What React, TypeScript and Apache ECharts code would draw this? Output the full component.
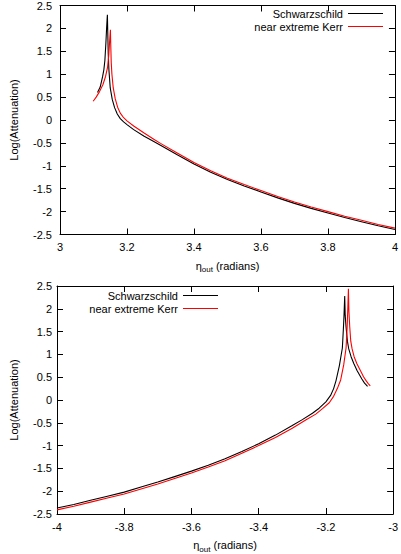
import React, { useEffect, useRef } from "react";
import * as echarts from "echarts";

const FONT = "'Liberation Sans', Arial, Helvetica, sans-serif";

const seriesNames = ["Schwarzschild", "near extreme Kerr"];
const xTitle = "{e|η}{s|out}{e| (radians)}";
const yTitle = "Log(Attenuation)";

// top panel (positive eta_out)
const topSchwarzschild: [number, number][] = [
  [3.112, 0.6], [3.12, 0.72], [3.127, 0.94], [3.131, 1.1], [3.134, 1.3], [3.137, 1.68], [3.139, 1.98], [3.1405, 2.18], [3.1415, 2.3],
  [3.1425, 1.95], [3.144, 1.45], [3.146, 1.1], [3.15, 0.7], [3.156, 0.45], [3.163, 0.27], [3.171, 0.13], [3.18, 0.03],
  [3.19, -0.04], [3.2, -0.1], [3.22, -0.21], [3.25, -0.35], [3.28, -0.47], [3.3, -0.55], [3.35, -0.76], [3.4, -0.96],
  [3.45, -1.14], [3.5, -1.3], [3.55, -1.44], [3.6, -1.57], [3.65, -1.7], [3.7, -1.82], [3.75, -1.93], [3.8, -2.03],
  [3.85, -2.13], [3.9, -2.22], [3.95, -2.31], [4.0, -2.39],
];
const topKerr: [number, number][] = [
  [3.099, 0.41], [3.108, 0.5], [3.118, 0.62], [3.128, 0.77], [3.136, 0.95], [3.142, 1.15], [3.146, 1.45], [3.148, 1.7], [3.1505, 1.97],
  [3.1515, 1.65], [3.153, 1.25], [3.155, 1.0], [3.159, 0.7], [3.165, 0.46], [3.172, 0.28], [3.18, 0.15], [3.19, 0.05],
  [3.2, -0.02], [3.22, -0.13], [3.25, -0.28], [3.28, -0.42], [3.3, -0.51], [3.35, -0.72], [3.4, -0.93], [3.45, -1.11],
  [3.5, -1.27], [3.55, -1.41], [3.6, -1.54], [3.65, -1.67], [3.7, -1.79], [3.75, -1.9], [3.8, -2.0], [3.85, -2.1],
  [3.9, -2.19], [3.95, -2.28], [4.0, -2.36],
];

// bottom panel (negative eta_out)
const bottomSchwarzschild: [number, number][] = [
  [-4.0, -2.37], [-3.95, -2.29], [-3.9, -2.2], [-3.85, -2.11], [-3.8, -2.02], [-3.75, -1.91], [-3.7, -1.8], [-3.65, -1.68],
  [-3.6, -1.56], [-3.55, -1.43], [-3.5, -1.29], [-3.45, -1.13], [-3.4, -0.96], [-3.35, -0.77], [-3.3, -0.56], [-3.27, -0.43],
  [-3.24, -0.29], [-3.22, -0.18], [-3.2, -0.04], [-3.186, 0.1], [-3.177, 0.25], [-3.17, 0.42], [-3.16, 0.75], [-3.151, 1.14],
  [-3.148, 1.55], [-3.146, 1.87], [-3.144, 2.28], [-3.1425, 1.85], [-3.14, 1.6], [-3.136, 1.29], [-3.132, 1.12], [-3.125, 0.95],
  [-3.117, 0.8], [-3.107, 0.64], [-3.093, 0.46], [-3.085, 0.37], [-3.076, 0.3],
];
const bottomKerr: [number, number][] = [
  [-4.0, -2.41], [-3.95, -2.33], [-3.9, -2.24], [-3.85, -2.15], [-3.8, -2.06], [-3.75, -1.95], [-3.7, -1.84], [-3.65, -1.72],
  [-3.6, -1.6], [-3.55, -1.47], [-3.5, -1.33], [-3.45, -1.17], [-3.4, -1.0], [-3.35, -0.82], [-3.3, -0.62], [-3.26, -0.44],
  [-3.23, -0.31], [-3.21, -0.19], [-3.19, -0.06], [-3.177, 0.08], [-3.166, 0.25], [-3.156, 0.44], [-3.147, 0.77], [-3.14, 1.14],
  [-3.137, 1.55], [-3.135, 1.95], [-3.133, 2.44], [-3.1315, 1.95], [-3.129, 1.6], [-3.126, 1.29], [-3.122, 1.12], [-3.116, 0.95],
  [-3.108, 0.8], [-3.097, 0.64], [-3.088, 0.51], [-3.081, 0.43], [-3.074, 0.36], [-3.068, 0.31],
];

const topXRange = [3, 4];
const bottomXRange = [-4, -3];
const yRange = [-2.5, 2.5];
const xStep = 0.2;
const yStep = 0.5;
const colors = ["#000000", "#ff0000"];

const txt = { fontFamily: FONT, fontSize: 11, color: "#000" };

function xAxes(gridIndex: number, range: number[]) {
  const common = {
    type: "value",
    gridIndex,
    min: range[0],
    max: range[1],
    interval: xStep,
    splitLine: { show: false },
    axisLine: { show: true, onZero: false, lineStyle: { color: "#000", width: 1 } },
    axisTick: { show: true, inside: true, length: 6, lineStyle: { color: "#000" } },
  };
  return [
    {
      ...common,
      position: "bottom",
      axisLabel: { ...txt, margin: 7 },
      name: xTitle,
      nameLocation: "middle",
      nameGap: 23,
      nameTextStyle: {
        ...txt,
        rich: {
          e: { ...txt },
          s: { fontFamily: FONT, fontSize: 8, color: "#000", padding: [8, 0, 0, 0] },
        },
      },
    },
    { ...common, position: "top", axisLabel: { show: false } },
  ];
}

function yAxes(gridIndex: number, gap: number, margin: number) {
  const common = {
    type: "value",
    gridIndex,
    min: yRange[0],
    max: yRange[1],
    interval: yStep,
    splitLine: { show: false },
    axisLine: { show: true, onZero: false, lineStyle: { color: "#000", width: 1 } },
    axisTick: { show: true, inside: true, length: 6, lineStyle: { color: "#000" } },
  };
  return [
    {
      ...common,
      position: "left",
      axisLabel: { ...txt, margin },
      name: yTitle,
      nameLocation: "middle",
      nameGap: gap,
      nameTextStyle: { ...txt },
    },
    { ...common, position: "right", axisLabel: { show: false } },
  ];
}

function legendItem(name: string, right: number, top: number) {
  return {
    data: [name],
    orient: "vertical",
    right,
    top,
    align: "right",
    padding: 0,
    icon: "rect",
    itemWidth: 35,
    itemHeight: 1,
    selectedMode: false,
    textStyle: { ...txt },
  };
}

export default function App() {
  const ref = useRef<HTMLDivElement>(null);
  useEffect(() => {
    if (!ref.current) return;
    const chart = echarts.init(ref.current, undefined, { renderer: "svg" });
    const line = (name: string, data: [number, number][], g: number, color: string) => ({
      name,
      type: "line",
      data,
      xAxisIndex: g * 2,
      yAxisIndex: g * 2,
      showSymbol: false,
      symbol: "none",
      smooth: false,
      color,
      lineStyle: { color, width: 1.1 },
    });
    chart.setOption({
      animation: false,
      backgroundColor: "#fff",
      grid: [
        { left: 55, right: 5, top: 4.5, height: 230 },
        { left: 52, right: 6, top: 286, height: 232 },
      ],
      legend: [
        legendItem(seriesNames[0], 18, 8),
        legendItem(seriesNames[1], 18, 21),
        legendItem(seriesNames[0], 183, 290),
        legendItem(seriesNames[1], 183, 303),
      ],
      xAxis: [...xAxes(0, topXRange), ...xAxes(1, bottomXRange)],
      yAxis: [...yAxes(0, 41, 8), ...yAxes(1, 38, 5)],
      series: [
        line(seriesNames[0], topSchwarzschild, 0, colors[0]),
        line(seriesNames[1], topKerr, 0, colors[1]),
        line(seriesNames[0], bottomSchwarzschild, 1, colors[0]),
        line(seriesNames[1], bottomKerr, 1, colors[1]),
      ],
    });
    return () => chart.dispose();
  }, []);
  return (
    <div
      ref={ref}
      style={{ position: "fixed", left: 0, top: 0, width: 401, height: 554, background: "#fff" }}
    />
  );
}
